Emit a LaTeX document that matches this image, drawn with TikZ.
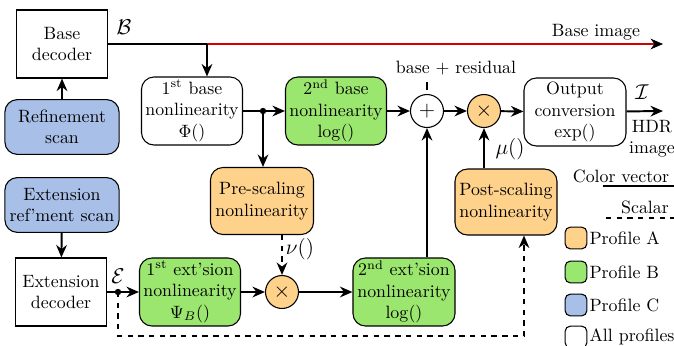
\documentclass[tikz,border=0pt]{standalone}
\usepackage{amsfonts, amsmath}
\usepackage{tikz}
\usetikzlibrary{arrows.meta}

\definecolor{profA}{RGB}{255,210,140}
\definecolor{profB}{RGB}{155,230,110}
\definecolor{profC}{RGB}{168,192,232}
\definecolor{baseimg}{RGB}{210,0,0}

\tikzset{
    dec/.style={draw, semithick, fill=white, align=center, inner sep=1pt,
        minimum width=1.79cm, minimum height=1.34cm},
    blk/.style={draw, semithick, rounded corners=7pt, align=center, inner sep=1pt,
        minimum width=1.99cm, minimum height=1.34cm},
    scanbox/.style={blk, fill=profC, minimum width=2.25cm, minimum height=1.08cm},
    op/.style={draw, semithick, circle, minimum size=0.65cm, inner sep=0pt, font=\large},
    wire/.style={line width=1.1pt, -{Stealth[length=7pt,width=6pt,color=black]}},
    legbox/.style={draw, semithick, rounded corners=3pt, minimum size=0.43cm, inner sep=0pt},
    siglab/.style={font=\large},
}

\begin{document}
\begin{tikzpicture}[x=0.0197cm, y=-0.0197cm]
    \useasboundingbox (0,0) rectangle (674,345);

    % decoders and scans
    \node [dec] (base)    at (62,44)  {Base\\decoder};
    \node [scanbox] (refine) at (62,127) {Refinement\\scan};
    \node [scanbox] (extref) at (62,205) {Extension\\ref'ment scan};
    \node [dec] (extdec)  at (61,292) {Extension\\decoder};

    % base branch
    \node [blk, fill=white] (phi)  at (192,111) {1\textsuperscript{st} base\\nonlinearity\\$\Phi()$};
    \node [blk, fill=profB] (logb) at (336,111) {2\textsuperscript{nd} base\\nonlinearity\\$\log()$};
    \node [op, fill=white]  (plus)  at (427,111) {$+$};
    \node [op, fill=profA]  (times) at (484,111) {$\times$};
    \node [blk, fill=white, minimum width=2.01cm] (outc) at (575,112) {Output\\conversion\\$\exp()$};

    % extension branch
    \node [blk, fill=profA, minimum width=2.03cm, minimum height=1.32cm] (pre)  at (262,201) {Pre-scaling\\nonlinearity};
    \node [blk, fill=profA, minimum width=2.01cm, minimum height=1.30cm] (post) at (506,202) {Post-scaling\\nonlinearity};
    \node [blk, fill=profB] (psi)    at (190,292) {1\textsuperscript{st} ext'sion\\nonlinearity\\$\Psi_B()$};
    \node [op, fill=profA]  (times2) at (282,292) {$\times$};
    \node [blk, fill=profB, minimum width=2.01cm] (loge) at (404,292) {2\textsuperscript{nd} ext'sion\\nonlinearity\\$\log()$};

    \coordinate (bsplit) at (207,44);
    \coordinate (bimg)   at (663,44);
    \coordinate (split)  at (263,111);
    \coordinate (edot)   at (118,292);
    \coordinate (dashend) at (524,336);
    \coordinate (hdr)    at (663,111);
    \coordinate (pintop) at (427,82);

    % connectors
    \draw [wire] (refine) -- (base);
    \draw [wire] (extref) -- (extdec);
    \draw [line width=1.1pt] (base.east |- bsplit) -- (bsplit);
    \draw [wire, draw=black!80, double=baseimg, double distance=0.6pt, line width=0.3pt] (bsplit) -- (bimg);
    \draw [wire] (bsplit) -- (phi.north -| bsplit);
    \draw [wire] (phi) -- (logb);
    \draw [wire] (split) -- (split |- pre.north);
    \fill (split) circle(1.8pt);
    \draw [wire] (logb) -- (plus);
    \draw [wire] (plus) -- (times);
    \draw [wire] (times) -- (outc);
    \draw [wire] (outc) -- (hdr);
    \draw [semithick, shorten >=2pt] (pintop) -- (plus.north);

    \draw [wire] (extdec.east |- edot) -- (psi.west |- edot);
    \fill (edot) circle(1.8pt);
    \draw [wire] (psi) -- (times2);
    \draw [wire, dashed] (times2 |- pre.south) -- (times2);
    \draw [wire] (times2) -- (loge);
    \draw [wire] (plus |- loge.north) -- (plus);
    \draw [wire] (times |- post.north) -- (times);
    \draw [wire, dashed] (edot) |- (dashend) -- (post.south -| dashend);

    % labels
    \node [siglab] (blab)  at (124,27)  {$\mathcal{B}$};
    \node [siglab] (elab)  at (118,276) {$\mathcal{E}$};
    \node [siglab] (ilab)  at (642,92)  {$\mathcal{I}$};
    \node (bilab) at (596,32)  {Base image};
    \node [align=center] (hdrlab) at (652,139) {HDR\\image};
    \node (bres)  at (456,68)  {base $+$ residual};
    \node [siglab] (mulab) at (510,149) {$\mu()$};
    \node [siglab] (nulab) at (300,249) {$\nu()$};

    % legend
    \node (lcol) at (621,176) {Color vector};
    \draw [line width=1.1pt] (603,186) -- (674,186);
    \node (lsca) at (645,207) {Scalar};
    \draw [line width=1.1pt, dashed] (606,218) -- (674,218);
    \foreach \c/\t/\y in {profA/Profile A/238, profB/Profile B/272, profC/Profile C/305, white/All profiles/337}{%
        \node [legbox, fill=\c] (box\y) at (576,\y) {};
        \node [anchor=west, inner sep=1pt] at (box\y.east) {\t};}
\end{tikzpicture}
\end{document}
